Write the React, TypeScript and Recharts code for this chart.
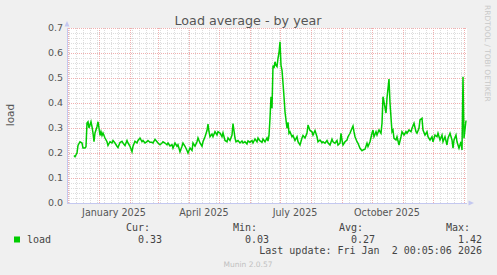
import React from 'react';
import { LineChart, Line, XAxis, YAxis, ReferenceLine, CartesianGrid } from 'recharts';

// day offsets counted from 1 Jan 2025
const dayOffsets = [
  -25, -24, -22, -21, -19, -17, -16, -14, -13, -12, -11, -10, -8, -7, -6, -5, -4, -2, -1,
  0, 1, 2, 3, 4, 6, 8, 9, 11, 13, 14, 16, 18, 19, 21, 23, 24, 26, 28, 29,
  31, 33, 34, 36, 38, 39, 41, 43, 44, 46, 48, 49, 51, 53, 54, 56, 58, 59,
  61, 63, 64, 66, 68, 69, 71, 73, 74, 76, 78, 79, 81, 83, 84, 86, 88, 89,
  91, 93, 94, 96, 98, 99, 101, 103, 104, 106, 108, 109, 110, 111, 113, 114, 116, 118, 119,
  121, 123, 124, 126, 128, 129, 131, 133, 134, 136, 137, 139, 141, 143, 144, 146, 148, 149,
  151, 153, 154, 156, 158, 159, 161, 163, 164, 166, 168, 169, 170, 171, 172, 173, 174, 175,
  176, 177, 178, 179, 180, 181, 182, 183, 184, 185, 186, 188, 189, 190, 191, 193, 194, 196,
  198, 199, 201, 203, 204, 206, 208, 209, 211, 213, 214, 216, 218, 219, 221, 223, 224, 226,
  228, 229, 231, 233, 234, 236, 238, 239, 241, 242, 243, 244, 246, 248, 249, 251, 253, 254,
  255, 256, 258, 259, 261, 263, 264, 266, 268, 269, 271, 273, 274, 275, 277, 278, 280, 282,
  283, 284, 287, 288, 290, 291, 293, 294, 295, 297, 298, 300, 302, 303, 305, 307, 308, 310,
  312, 313, 315, 317, 318, 320, 321, 323, 324, 326, 328, 329, 331, 333, 334, 336, 338, 339,
  341, 343, 344, 346, 348, 349, 351, 353, 354, 355, 357, 358, 360, 362, 363, 364, 365, 367,
];

const loadValues = [
  0.19, 0.185, 0.2, 0.23, 0.245, 0.24, 0.22, 0.22, 0.225, 0.32, 0.325, 0.3, 0.325, 0.305, 0.28, 0.245, 0.28, 0.305, 0.325,
  0.3, 0.27, 0.285, 0.27, 0.28, 0.26, 0.245, 0.23, 0.245, 0.24, 0.25, 0.24, 0.227, 0.222, 0.242, 0.247, 0.24, 0.23, 0.25, 0.24,
  0.227, 0.205, 0.227, 0.247, 0.24, 0.25, 0.26, 0.245, 0.25, 0.24, 0.245, 0.25, 0.243, 0.243, 0.24, 0.255, 0.245, 0.24,
  0.233, 0.24, 0.245, 0.24, 0.233, 0.24, 0.228, 0.233, 0.219, 0.24, 0.227, 0.233, 0.205, 0.227, 0.24, 0.227, 0.21, 0.2,
  0.22, 0.21, 0.24, 0.227, 0.245, 0.26, 0.24, 0.227, 0.245, 0.265, 0.29, 0.316, 0.285, 0.265, 0.276, 0.265, 0.285, 0.272, 0.285,
  0.28, 0.265, 0.28, 0.25, 0.245, 0.26, 0.25, 0.272, 0.318, 0.26, 0.245, 0.25, 0.24, 0.248, 0.24, 0.245, 0.236, 0.248,
  0.243, 0.25, 0.24, 0.256, 0.245, 0.26, 0.248, 0.243, 0.256, 0.245, 0.26, 0.248, 0.27, 0.339, 0.425, 0.379, 0.55, 0.539,
  0.565, 0.55, 0.545, 0.579, 0.6, 0.645, 0.55, 0.532, 0.48, 0.425, 0.365, 0.299, 0.323, 0.279, 0.285, 0.265, 0.27, 0.25,
  0.265, 0.245, 0.232, 0.26, 0.27, 0.26, 0.28, 0.312, 0.29, 0.285, 0.272, 0.29, 0.265, 0.245, 0.252, 0.241, 0.245, 0.239,
  0.25, 0.241, 0.232, 0.255, 0.245, 0.239, 0.25, 0.232, 0.239, 0.279, 0.252, 0.232, 0.245, 0.252, 0.265, 0.279, 0.299, 0.308,
  0.285, 0.265, 0.245, 0.239, 0.219, 0.209, 0.212, 0.215, 0.239, 0.226, 0.245, 0.279, 0.292, 0.265, 0.285, 0.272, 0.292, 0.279,
  0.319, 0.425, 0.36, 0.42, 0.496, 0.4, 0.285, 0.292, 0.259, 0.252, 0.265, 0.232, 0.265, 0.285, 0.272, 0.285, 0.279, 0.292,
  0.285, 0.299, 0.319, 0.285, 0.279, 0.299, 0.332, 0.339, 0.292, 0.272, 0.285, 0.265, 0.252, 0.265, 0.245, 0.272, 0.265, 0.279,
  0.252, 0.272, 0.245, 0.265, 0.232, 0.259, 0.279, 0.252, 0.219, 0.252, 0.272, 0.245, 0.219, 0.245, 0.212, 0.505, 0.259, 0.33,
];

const monthStartDays = [-31, 0, 31, 59, 90, 120, 151, 181, 212, 243, 273, 304, 334, 365];
const weekStartDays = [
  -30, -23, -16, -9, -2, 5, 12, 19, 26, 33, 40, 47, 54, 61, 68, 75, 82, 89, 96, 103, 110, 117, 124,
  131, 138, 145, 152, 159, 166, 173, 180, 187, 194, 201, 208, 215, 222, 229, 236, 243, 250, 257,
  264, 271, 278, 285, 292, 299, 306, 313, 320, 327, 334, 341, 348, 355, 362,
];
const quarterLabelDays = [15, 105, 196, 288];
const quarterLabels = ['January 2025', 'April 2025', 'July 2025', 'October 2025'];
const yMajorTicks = [0, 0.1, 0.2, 0.3, 0.4, 0.5, 0.6, 0.7];
const yMinorTicks = [
  0.02, 0.04, 0.06, 0.08, 0.12, 0.14, 0.16, 0.18, 0.22, 0.24, 0.26, 0.28, 0.32, 0.34, 0.36, 0.38,
  0.42, 0.44, 0.46, 0.48, 0.52, 0.54, 0.56, 0.58, 0.62, 0.64, 0.66, 0.68,
];
const statHeaders = ['Cur:', 'Min:', 'Avg:', 'Max:'];
const statValues = ['0.33', '0.03', '0.27', '1.42'];

const data = dayOffsets.map((d, i) => ({ day: d, load: loadValues[i] }));

const SANS = 'DejaVu Sans, sans-serif';
const MONO = 'DejaVu Sans Mono, monospace';
const AXIS = '#C4C8F0';
const MINOR = '#DDDDDD';
const MAJOR = '#F0B0B0';

export default function App() {
  const statRight = [150, 257, 363, 470];
  return (
    <div style={{ position: 'fixed', left: 0, top: 0, width: 497, height: 275, background: '#F0F0F0', overflow: 'hidden' }}>
      <LineChart width={497} height={275} data={data} margin={{ top: 28, right: 30, left: 27, bottom: 42 }}>
        <CartesianGrid fill="#FFFFFF" horizontal={false} vertical={false} stroke="none" />
        {weekStartDays
          .filter((d) => !monthStartDays.includes(d))
          .map((d) => (
            <ReferenceLine key={'w' + d} x={d} stroke={MINOR} strokeDasharray="1 1" shapeRendering="crispEdges" />
          ))}
        {yMinorTicks.map((v) => (
          <ReferenceLine key={'ym' + v} y={v} stroke={MINOR} strokeDasharray="1 1" shapeRendering="crispEdges" />
        ))}
        {monthStartDays.map((d) => (
          <ReferenceLine key={'m' + d} x={d} stroke={MAJOR} strokeDasharray="1 1" shapeRendering="crispEdges" />
        ))}
        {yMajorTicks
          .filter((v) => v > 0)
          .map((v) => (
            <ReferenceLine key={'yM' + v} y={v} stroke={MAJOR} strokeDasharray="1 1" shapeRendering="crispEdges" />
          ))}
        <XAxis
          type="number"
          dataKey="day"
          domain={[-32, 368]}
          allowDataOverflow
          ticks={quarterLabelDays}
          interval={0}
          tickFormatter={(v: number) => quarterLabels[quarterLabelDays.indexOf(v)] ?? ''}
          axisLine={{ stroke: AXIS, shapeRendering: 'crispEdges' }}
          tickLine={false}
          tickSize={0}
          tickMargin={6}
          height={30}
          tick={{ fill: '#555555', fontSize: 9.6, fontFamily: SANS }}
        />
        <YAxis
          type="number"
          domain={[0, 0.7]}
          allowDataOverflow
          ticks={yMajorTicks}
          interval={0}
          tickFormatter={(v: number) => v.toFixed(1)}
          axisLine={{ stroke: AXIS, shapeRendering: 'crispEdges' }}
          tickLine={false}
          tickSize={0}
          tickMargin={4}
          width={40}
          tick={{ fill: '#555555', fontSize: 9.5, fontFamily: SANS }}
        />
        <Line
          type="linear"
          dataKey="load"
          stroke="#00CC00"
          strokeWidth={1.5}
          dot={false}
          activeDot={false}
          isAnimationActive={false}
        />
      </LineChart>
      <svg width={497} height={275} style={{ position: 'absolute', left: 0, top: 0, pointerEvents: 'none' }}>
        <polygon points="64.5,26.5 69.5,26.5 67,21" fill={AXIS} />
        <polygon points="468.5,200.5 468.5,205.5 474,203" fill={AXIS} />
        <text x={248} y={24.5} textAnchor="middle" fontFamily={SANS} fontSize={12.7} fill="#555555">
          Load average - by year
        </text>
        <text transform="translate(14,115) rotate(-90)" textAnchor="middle" fontFamily={SANS} fontSize={10.5} fill="#555555">
          load
        </text>
        <text transform="translate(484.5,5) rotate(90)" textAnchor="start" fontFamily={SANS} fontSize={7.5} fill="#C8C8C8">
          RRDTOOL / TOBI OETIKER
        </text>
        <rect x={14} y={236.5} width={6} height={6} fill="#00CC00" />
        <text x={27} y={242.7} fontFamily={MONO} fontSize={10} fill="#444444">
          load
        </text>
        {statHeaders.map((h, i) => (
          <text key={h} x={statRight[i]} y={230.7} textAnchor="end" fontFamily={MONO} fontSize={10} fill="#444444">
            {h}
          </text>
        ))}
        {statValues.map((v, i) => (
          <text key={'v' + i} x={statRight[i] + 12} y={242.7} textAnchor="end" fontFamily={MONO} fontSize={10} fill="#444444">
            {v}
          </text>
        ))}
        <text x={482} y={254} textAnchor="end" fontFamily={MONO} fontSize={10} fill="#444444" style={{ whiteSpace: 'pre' }}>
          {'Last update: Fri Jan  2 00:05:06 2026'}
        </text>
        <text x={248} y={266.5} textAnchor="middle" fontFamily={SANS} fontSize={7.5} fill="#C0C0C0">
          Munin 2.0.57
        </text>
      </svg>
    </div>
  );
}
